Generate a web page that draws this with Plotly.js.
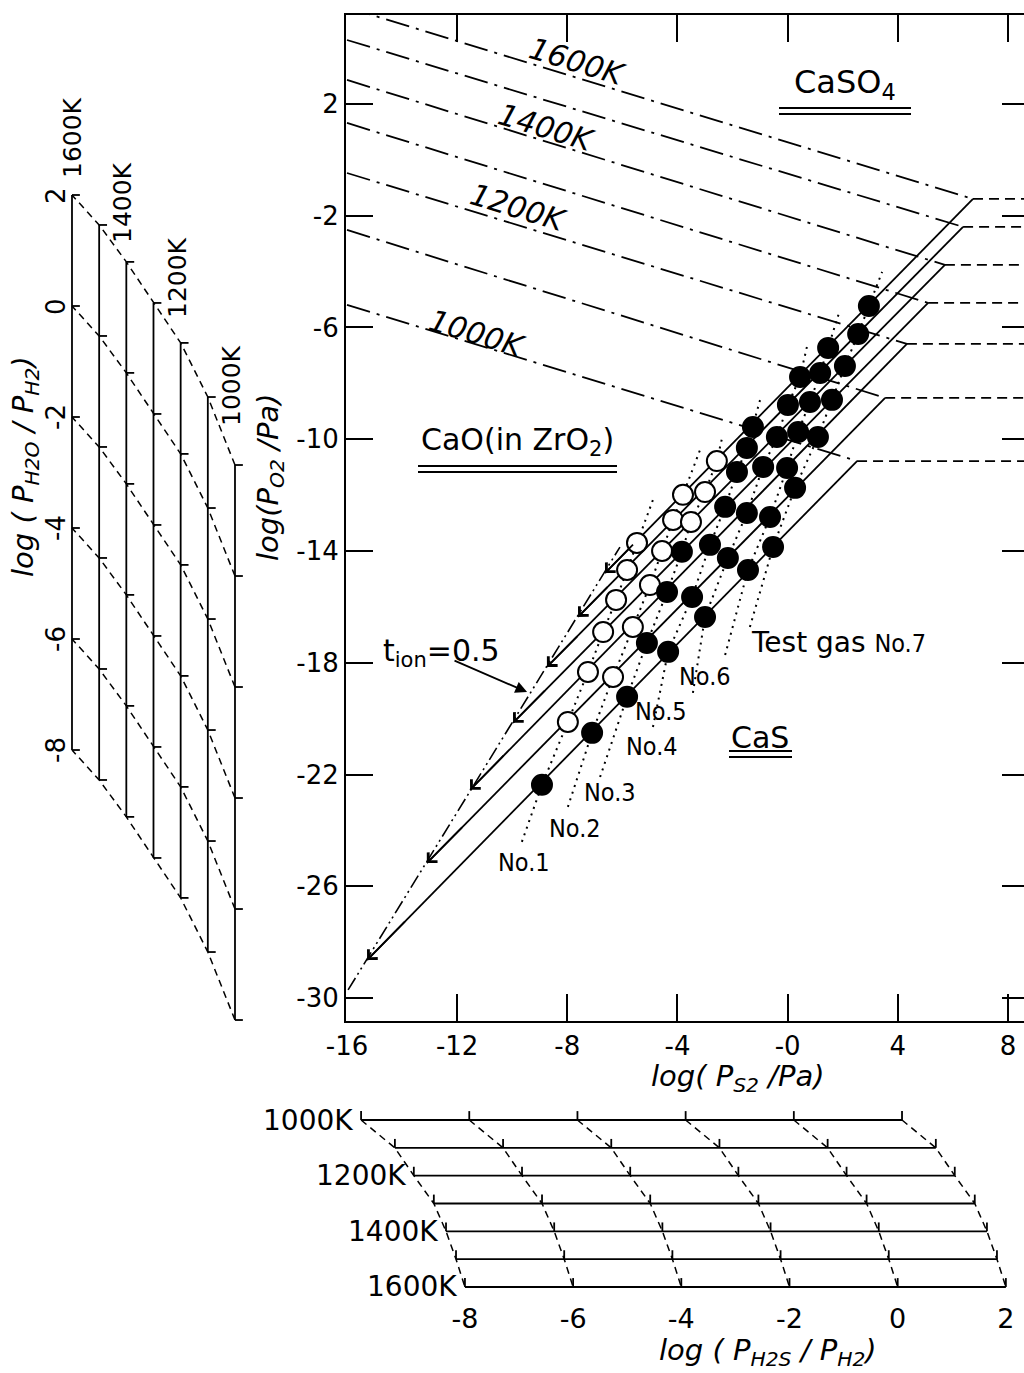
<!DOCTYPE html>
<html><head><meta charset="utf-8">
<script src="https://cdn.plot.ly/plotly-3.0.1.min.js"></script>
<style>html,body{margin:0;padding:0;background:#fff;}#chart{width:1024px;height:1373px;}</style>
</head><body><div id="chart"></div>
<script>
// ---------------- data ----------------
const temps = [1000, 1100, 1200, 1300, 1400, 1500, 1600];
const tempLabels = ['1000K', '1100K', '1200K', '1300K', '1400K', '1500K', '1600K'];
// CaO / CaS / CaSO4 triple points (log PS2, log PO2)
const tripleX = [2.52, 3.54, 4.33, 5.10, 5.71, 6.37, 6.73];
const tripleY = [-10.78, -8.52, -6.59, -5.12, -3.76, -2.40, -1.40];
// CaO/CaSO4 boundaries: log PO2 at log PS2 = -16
const caoSo4StartX = [-16, -16, -16, -16, -16, -16, -16];
const caoSo4StartY = [-5.19, -2.51, -0.47, 1.32, 2.86, 4.29, 5.46];
// CaO/CaS boundaries end on the t_ion = 0.5 line
const caoCasEndX = [-15.27, -13.10, -11.53, -9.97, -8.74, -7.61, -6.63];
const caoCasEndY = [-28.64, -25.17, -22.55, -20.15, -18.15, -16.36, -14.79];
// t_ion = 0.5 line and its pointer arrow (tail, tip)
const tionX = [-15.96, -6.09];
const tionY = [-29.71, -13.86];
const pointerX = [-12.15, -9.46];
const pointerY = [-17.90, -19.05];
// test gases No.1 ... No.7, values at 1000 ... 1600 K
const gasNames = ['No.1', 'No.2', 'No.3', 'No.4', 'No.5', 'No.6', 'No.7'];
const gasX = [
  [-8.92, -7.98, -7.25, -6.70, -6.23, -5.83, -5.47],
  [-7.10, -6.34, -5.62, -5.00, -4.56, -4.16, -3.80],
  [-5.83, -5.11, -4.38, -3.84, -3.51, -3.00, -2.57],
  [-4.34, -3.47, -2.82, -2.27, -1.84, -1.48, -1.26],
  [-3.00, -2.17, -1.48, -0.89, -0.39, 0.01, 0.45],
  [-1.44, -0.64, -0.02, 0.38, 0.81, 1.18, 1.47],
  [-0.53, 0.27, 1.10, 1.61, 2.08, 2.56, 2.95]
];
const gasY = [
  [-22.37, -20.12, -18.33, -16.90, -15.75, -14.68, -13.71],
  [-20.51, -18.51, -16.72, -15.22, -14.00, -12.89, -11.99],
  [-19.22, -17.29, -15.47, -14.03, -12.96, -11.89, -10.78],
  [-17.61, -15.65, -13.78, -12.42, -11.17, -10.31, -9.56],
  [-16.36, -14.25, -12.64, -10.99, -9.92, -8.77, -7.77],
  [-14.68, -12.78, -11.03, -9.74, -8.67, -7.63, -6.73],
  [-13.86, -11.74, -9.92, -8.59, -7.38, -6.23, -5.23]
];
const gasFilled = [
  [1, 0, 0, 0, 0, 0, 0],
  [1, 0, 0, 0, 0, 0, 0],
  [1, 1, 1, 1, 0, 0, 0],
  [1, 1, 1, 1, 1, 1, 1],
  [1, 1, 1, 1, 1, 1, 1],
  [1, 1, 1, 1, 1, 1, 1],
  [1, 1, 1, 1, 1, 1, 1]
];
const gasLineLowX = [-9.65, -7.98, -6.81, -4.89, -3.44, -2.27, -1.37];
const gasLineLowY = [-24.41, -23.16, -22.09, -20.30, -19.08, -17.72, -16.72];
const gasLineHighX = [-4.89, -3.18, -2.38, -1.00, 0.74, 1.90, 3.43];
const gasLineHighY = [-12.17, -10.38, -9.95, -8.59, -6.52, -5.37, -4.01];
// left scale: log PO2 = 2 log(PH2O/PH2) + h2oOffset
const h2oOffset = [-14.99, -12.54, -10.59, -9.15, -7.67, -6.34, -5.26];
const h2oTicks = [2, 0, -2, -4, -6, -8];
// bottom scale: log PS2 = 2 log(PH2S/PH2) + h2sOffset
const h2sOffset = [0.44, 1.69, 2.39, 3.13, 3.58, 3.95, 4.28];
const h2sTicks = [-8, -6, -4, -2, 0, 2];
// main axes ticks
const xTickVals = [-16, -12, -8, -4, 0, 4, 8];
const xTickText = ['-16', '-12', '-8', '-4', '-0', '4', '8'];
const yTickVals = [2, -2, -6, -10, -14, -18, -22, -26, -30];
const yTickText = ['2', '-2', '-6', '-10', '-14', '-18', '-22', '-26', '-30'];

// ---------------- styling / layout helpers ----------------
const FONT = '"DejaVu Sans", "Liberation Sans", sans-serif';
const NARROW = '"Liberation Sans Narrow", "DejaVu Sans Condensed", "Liberation Sans", sans-serif';
const K = '#000';
const W = 1024, H = 1373;
const px = v => v / W;
const py = v => 1 - v / H;
const xRange = [-16.036, 8.582];
const yRange = [-30.823, 5.185];
const base = {hoverinfo: 'skip', showlegend: false};

const traces = [];
function line(x, y, xa, ya, l) {
  traces.push(Object.assign({x: x, y: y, xaxis: xa, yaxis: ya, mode: 'lines', line: l}, base));
}

// main diagram boundaries
temps.forEach((T, i) => {
  line([caoSo4StartX[i], tripleX[i]], [caoSo4StartY[i], tripleY[i]], 'x', 'y',
       {color: K, width: 1.8, dash: '24px,7px,3px,7px'});
  line([tripleX[i], xRange[1] + 1], [tripleY[i], tripleY[i]], 'x', 'y',
       {color: K, width: 1.8, dash: '10px,6px'});
  line([tripleX[i], caoCasEndX[i]], [tripleY[i], caoCasEndY[i]], 'x', 'y', {color: K, width: 1.8});
});
line(tionX, tionY, 'x', 'y', {color: K, width: 1.6, dash: '14px,4px,2px,4px,2px,4px'});

// test gas dotted lines
gasNames.forEach((g, n) => {
  line([gasLineLowX[n]].concat(gasX[n], [gasLineHighX[n]]),
       [gasLineLowY[n]].concat(gasY[n], [gasLineHighY[n]]), 'x', 'y',
       {color: K, width: 2, dash: '2px,5px'});
});
// measured points
gasNames.forEach((g, n) => {
  traces.push(Object.assign({
    x: gasX[n], y: gasY[n], xaxis: 'x', yaxis: 'y', mode: 'markers', name: g,
    marker: {size: 20, color: gasFilled[n].map(f => f ? K : '#fff'), line: {color: K, width: 2}}
  }, base));
});

// helper traces so the mirror tick axes are drawn
traces.push(Object.assign({x: [xRange[0]], y: [yRange[0]], xaxis: 'x2', yaxis: 'y', mode: 'markers', marker: {opacity: 0}}, base));
traces.push(Object.assign({x: [xRange[0]], y: [yRange[0]], xaxis: 'x', yaxis: 'y2', mode: 'markers', marker: {opacity: 0}}, base));

// left scale log(PH2O/PH2)
const LT = 29; // tick length (K units on that axis)
temps.forEach((T, i) => {
  const lo = 2 * h2oTicks[h2oTicks.length - 1] + h2oOffset[i];
  const hi = 2 * h2oTicks[0] + h2oOffset[i];
  line([T, T], [lo, hi], 'x4', 'y4', {color: K, width: 1.8});
  const tx = [], ty = [];
  h2oTicks.forEach(v => { tx.push(T, T - LT, null); ty.push(2 * v + h2oOffset[i], 2 * v + h2oOffset[i], null); });
  line(tx, ty, 'x4', 'y4', {color: K, width: 1.8});
});
h2oTicks.forEach(v => {
  line(temps, temps.map((T, i) => 2 * v + h2oOffset[i]), 'x4', 'y4', {color: K, width: 1.5, dash: '7px,5px'});
});

// bottom scale log(PH2S/PH2)
const BT = 32;
temps.forEach((T, i) => {
  const lo = 2 * h2sTicks[0] + h2sOffset[i];
  const hi = 2 * h2sTicks[h2sTicks.length - 1] + h2sOffset[i];
  line([lo, hi], [T, T], 'x3', 'y3', {color: K, width: 1.8});
  const tx = [], ty = [];
  h2sTicks.forEach(w => { tx.push(2 * w + h2sOffset[i], 2 * w + h2sOffset[i], null); ty.push(T, T - BT, null); });
  line(tx, ty, 'x3', 'y3', {color: K, width: 1.8});
});
h2sTicks.forEach(w => {
  line(temps.map((T, i) => 2 * w + h2sOffset[i]), temps, 'x3', 'y3', {color: K, width: 1.5, dash: '7px,5px'});
});

// ---------------- annotations ----------------
const ann = [];
function txt(x, y, text, size, opts) {
  ann.push(Object.assign({x: px(x), y: py(y), xref: 'paper', yref: 'paper', text: text, showarrow: false,
    xanchor: 'center', yanchor: 'middle', font: {family: FONT, size: size, color: K}}, opts || {}));
}
// arrowheads at the lower ends of the CaO/CaS lines
temps.forEach((T, i) => {
  const dx = tripleX[i] - caoCasEndX[i], dy = tripleY[i] - caoCasEndY[i];
  ann.push({x: caoCasEndX[i], y: caoCasEndY[i], ax: caoCasEndX[i] + dx * 0.08, ay: caoCasEndY[i] + dy * 0.08,
    xref: 'x', yref: 'y', axref: 'x', ayref: 'y', text: '', showarrow: true,
    arrowhead: 4, arrowsize: 1.4, arrowwidth: 1.8, arrowcolor: K, standoff: 0});
});
// t_ion pointer
ann.push({x: pointerX[1], y: pointerY[1], ax: pointerX[0], ay: pointerY[0], xref: 'x', yref: 'y', axref: 'x', ayref: 'y',
  text: '', showarrow: true, arrowhead: 2, arrowsize: 1.3, arrowwidth: 1.8, arrowcolor: K, standoff: 0});
txt(441, 652, 't<sub>ion</sub>=0.5', 30);

// region labels
txt(845, 84, 'CaSO<sub>4</sub>', 32);
txt(517, 442, 'CaO(in ZrO<sub>2</sub>)', 30);
txt(760, 737, 'CaS', 30);

// temperature labels along the CaO/CaSO4 lines
txt(577, 62, '<i>1600K</i>', 30, {textangle: 17});
txt(546, 128, '<i>1400K</i>', 30, {textangle: 17});
txt(518, 208, '<i>1200K</i>', 30, {textangle: 17});
txt(477, 333, '<i>1000K</i>', 30, {textangle: 17});

// test gas labels
const gasLabelPos = [[524, 862], [575, 828], [610, 792], [652, 746], [689, 711], [733, 676]];
gasLabelPos.forEach((p, n) => {
  ann.push({x: px(p[0]), y: py(p[1]), xref: 'paper', yref: 'paper', text: gasNames[n], showarrow: false,
    font: {family: NARROW, size: 25, color: K}});
});
txt(838, 642, 'Test gas <span style="font-family:' + NARROW.replace(/"/g, "'") + ';font-size:25px">' + gasNames[6] + '</span>', 28);

// axis titles
txt(738, 1078, '<i>log( P<sub>S2</sub> /Pa)</i>', 29);
txt(270, 478, '<i>log(P<sub>O2</sub> /Pa)</i>', 29, {textangle: -90});
txt(768, 1352, '<i>log ( P<sub>H2S</sub> / P<sub>H2</sub>)</i>', 29);
txt(25, 467, '<i>log ( P<sub>H2O</sub> / P<sub>H2</sub>)</i>', 29, {textangle: -90});

// left scale labels
h2oTicks.forEach(v => {
  ann.push({x: temps[6], y: 2 * v + h2oOffset[6], xref: 'x4', yref: 'y4', text: String(v), showarrow: false,
    textangle: -90, xshift: -16, font: {family: FONT, size: 26, color: K}});
});
txt(72, 138, tempLabels[6], 25, {textangle: -90});
txt(123, 203, tempLabels[4], 25, {textangle: -90});
txt(177, 278, tempLabels[2], 25, {textangle: -90});
txt(231, 386, tempLabels[0], 25, {textangle: -90});

// bottom scale row labels
[0, 2, 4, 6].forEach(i => {
  ann.push({x: 2 * h2sTicks[0] + h2sOffset[i], y: temps[i], xref: 'x3', yref: 'y3', text: tempLabels[i],
    showarrow: false, xanchor: 'right', xshift: -6, font: {family: FONT, size: 28, color: K}});
});

// double underlines
const ul = (x0, x1, y) => ({type: 'line', xref: 'paper', yref: 'paper', x0: px(x0), x1: px(x1), y0: py(y), y1: py(y),
  line: {color: K, width: 2}});
const shapes = [ul(779, 911, 108), ul(779, 911, 114), ul(418, 617, 466), ul(418, 617, 472),
  ul(729, 792, 751), ul(729, 792, 757)];

const tickFont = {family: FONT, size: 26, color: K};
const layout = {
  width: W, height: H, margin: {l: 0, r: 0, t: 0, b: 0}, autosize: false,
  paper_bgcolor: '#fff', plot_bgcolor: 'rgba(0,0,0,0)', showlegend: false,
  xaxis: {domain: [px(346), 1], range: xRange, anchor: 'y', tickvals: xTickVals, ticktext: xTickText,
    ticks: 'inside', ticklen: 27, tickwidth: 2, tickcolor: K, showline: true, linewidth: 2, linecolor: K,
    mirror: true, showgrid: false, zeroline: false, tickfont: tickFont, ticklabelstandoff: 1},
  yaxis: {domain: [py(1021), py(15)], range: yRange, anchor: 'x', tickvals: yTickVals, ticktext: yTickText,
    ticks: 'inside', ticklen: 27, tickwidth: 2, tickcolor: K, showline: true, linewidth: 2, linecolor: K,
    showgrid: false, zeroline: false, tickfont: tickFont},
  xaxis2: {overlaying: 'x', anchor: 'y', side: 'top', range: xRange, tickvals: xTickVals.slice(1),
    ticks: 'inside', ticklen: 27, tickwidth: 2, tickcolor: K, showticklabels: false, showline: false,
    showgrid: false, zeroline: false},
  yaxis2: {overlaying: 'y', anchor: 'x', side: 'right', range: yRange, tickvals: yTickVals,
    ticks: 'inside', ticklen: 22, tickwidth: 2, tickcolor: K, showticklabels: false, showline: false,
    showgrid: false, zeroline: false},
  xaxis3: {domain: [0, 1], range: [-28.91, 8.95], anchor: 'y3',
    tickvals: h2sTicks.map(w => 2 * w + h2sOffset[6]), ticktext: h2sTicks.map(String),
    ticks: '', showline: false, showgrid: false, zeroline: false, tickfont: {family: FONT, size: 27, color: K}},
  yaxis3: {domain: [py(1300), py(1100)], range: [1646.8, 928.1], anchor: 'x3', visible: false},
  xaxis4: {domain: [0, px(300)], range: [1865, 760.7], anchor: 'y4', visible: false},
  yaxis4: {domain: [0, 1], range: [-43.71, 5.767], anchor: 'x4', visible: false},
  annotations: ann, shapes: shapes
};
Plotly.newPlot('chart', traces, layout, {staticPlot: true, displayModeBar: false});
</script></body></html>
